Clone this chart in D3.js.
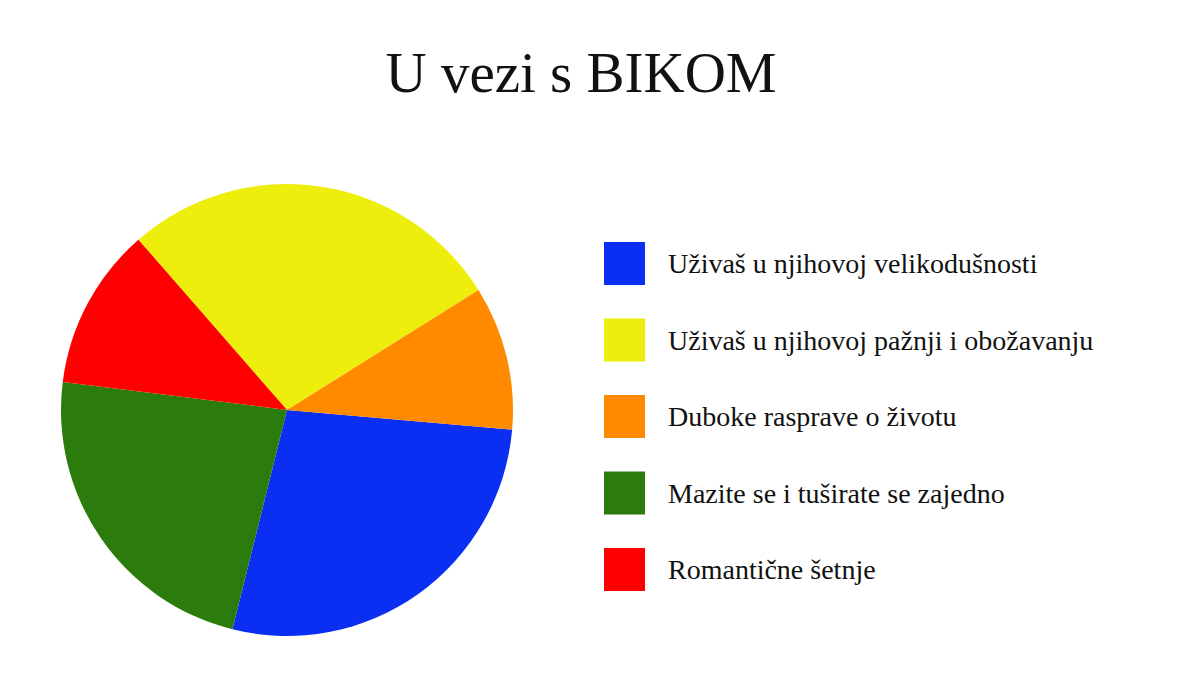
<!DOCTYPE html>
<html>
<head>
<meta charset="utf-8">
<script src="https://cdn.jsdelivr.net/npm/d3@7"></script>
<style>
  html, body { margin: 0; padding: 0; background: #ffffff; }
  svg { display: block; }
</style>
</head>
<body>
<svg id="chart" width="1200" height="674"></svg>
<script>
// ---- data ----
const title = "U vezi s BIKOM";
const categories = [
  "Uživaš u njihovoj velikodušnosti",
  "Uživaš u njihovoj pažnji i obožavanju",
  "Duboke rasprave o životu",
  "Mazite se i tuširate se zajedno",
  "Romantične šetnje"
];
const values = [27.5, 27.5, 10.3, 23.1, 11.6];
const colors = ["#0a2ef2", "#eeee0c", "#ff8a00", "#2b7c0c", "#ff0000"];
// clockwise drawing order of the slices (indices into categories)
const drawOrder = [1, 2, 0, 3, 4];

// ---- layout ----
const svg = d3.select("#chart");
const W = 1200, H = 674;
const cx = 287, cy = 410, R = 226;
const startDeg = -41.1;

svg.append("rect").attr("width", W).attr("height", H).attr("fill", "#fff");

svg.append("text")
  .attr("x", 581).attr("y", 92)
  .attr("text-anchor", "middle")
  .attr("font-family", "'Liberation Serif', 'DejaVu Serif', serif")
  .attr("font-size", 57)
  .attr("fill", "#111")
  .text(title);

const data = categories.map((c, i) => ({ name: c, value: values[i], color: colors[i], idx: i }));

const pie = d3.pie()
  .value(d => d.value)
  .sort((a, b) => drawOrder.indexOf(a.idx) - drawOrder.indexOf(b.idx))
  .startAngle(startDeg * Math.PI / 180)
  .endAngle(startDeg * Math.PI / 180 + 2 * Math.PI);

const arc = d3.arc().innerRadius(0).outerRadius(R);

svg.append("g")
  .attr("transform", `translate(${cx},${cy})`)
  .selectAll("path")
  .data(pie(data))
  .join("path")
  .attr("d", arc)
  .attr("fill", d => d.data.color);

// ---- legend ----
const legendY = d3.scalePoint().domain(d3.range(categories.length)).range([264, 570]);
const lg = svg.append("g");
const items = lg.selectAll("g").data(data).join("g")
  .attr("transform", d => `translate(0,${legendY(d.idx)})`);
items.append("rect")
  .attr("x", 604).attr("y", -22)
  .attr("width", 41).attr("height", 43)
  .attr("fill", d => d.color);
items.append("text")
  .attr("x", 668).attr("y", 9)
  .attr("font-family", "'Liberation Serif', 'DejaVu Serif', serif")
  .attr("font-size", 28)
  .attr("fill", "#111")
  .text(d => d.name);
</script>
</body>
</html>
